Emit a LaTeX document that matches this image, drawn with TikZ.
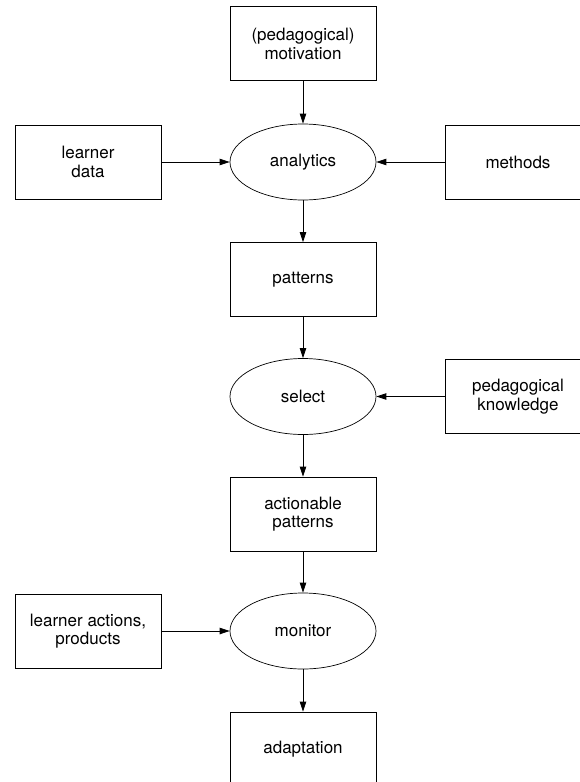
\documentclass[tikz,border=0pt]{standalone}
\usepackage{fontspec}
\setmainfont{TeX Gyre Heros}
\usetikzlibrary{shapes.geometric,arrows.meta}
\begin{document}
\begin{tikzpicture}[x=1pt,y=-1pt,
  every node/.style={font=\fontsize{17}{18.5}\selectfont, align=center, inner sep=0pt},
  box/.style={draw, line width=0.8pt, minimum width=146pt, minimum height=74pt},
  proc/.style={draw, ellipse, line width=0.7pt, minimum width=146pt, minimum height=76pt},
  flow/.style={line width=0.8pt, -{Triangle[length=10pt,width=6.5pt]}}]
  \useasboundingbox (0,0) rectangle (579,782);
  % central column
  \node[box]  (mot)  at (303,43.7)  {(pedagogical)\\motivation};
  \node[proc] (ana)  at (303,162)   {analytics};
  \node[box]  (pat)  at (303,279.5) {patterns};
  \node[proc] (sel)  at (303,396.5) {select};
  \node[box]  (act)  at (303,514)   {actionable\\patterns};
  \node[proc] (mon)  at (303,631)   {monitor};
  \node[box]  (ada)  at (303,749)   {adaptation};
  % side inputs
  \node[box]  (data) at (88,162)    {learner\\data};
  \node[box]  (meth) at (518,162)   {methods};
  \node[box]  (know) at (518,396.5) {pedagogical\\knowledge};
  \node[box]  (lact) at (88,631)    {learner actions,\\products};
  % connectors
  \draw[flow] (mot) -- (ana);
  \draw[flow] (ana) -- (pat);
  \draw[flow] (pat) -- (sel);
  \draw[flow] (sel) -- (act);
  \draw[flow] (act) -- (mon);
  \draw[flow] (mon) -- (ada);
  \draw[flow] (data) -- (ana);
  \draw[flow] (meth) -- (ana);
  \draw[flow] (know) -- (sel);
  \draw[flow] (lact) -- (mon);
\end{tikzpicture}
\end{document}
